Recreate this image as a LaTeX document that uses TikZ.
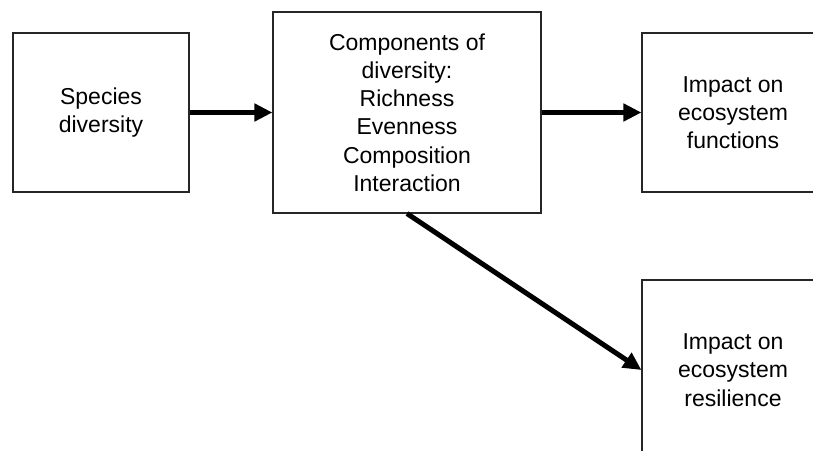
\documentclass[tikz,border=0pt]{standalone}
\usepackage{fontspec}
\setmainfont{Liberation Sans}
\usetikzlibrary{arrows.meta}
\begin{document}
\begin{tikzpicture}[x=1pt,y=-1pt,
  box/.style={draw=black!85, line width=1.1pt, inner sep=0pt, align=center,
    font=\fontsize{23}{28.2}\selectfont},
  conn/.style={line width=5pt, -{Triangle[length=18pt,width=17pt]}}]
\useasboundingbox (0,0) rectangle (813,450);
\clip (0,0) rectangle (813,450);
\node[box, minimum width=176pt, minimum height=159pt] (sp) at (101,112.5) {Species\\diversity};
\node[box, minimum width=268pt, minimum height=201pt] (comp) at (407,112.5) {Components of\\diversity:\\Richness\\Evenness\\Composition\\Interaction};
\node[box, minimum width=182pt, minimum height=159pt] (fun) at (733,112.5) {Impact on\\ecosystem\\functions};
\node[box, minimum width=182pt, minimum height=180pt] (res) at (733,370) {Impact on\\ecosystem\\resilience};
\draw[conn] (sp.east) -- (comp.west);
\draw[conn] (comp.east) -- (fun.west);
\draw[conn] (comp.south) -- (res.west);
\end{tikzpicture}
\end{document}
